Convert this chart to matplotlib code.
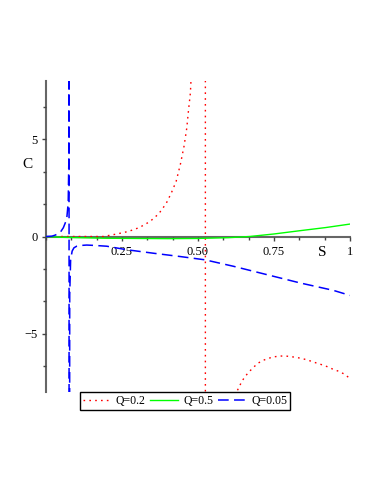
import matplotlib
matplotlib.use('Agg')
import matplotlib.pyplot as plt
from matplotlib.ticker import MultipleLocator

plt.rcParams['font.family'] = ['Liberation Serif', 'DejaVu Serif']

# Q=0.2 (red, dotted), incl. the asymptote jump
s_red = [0.05, 0.1, 0.15, 0.188, 0.23, 0.271, 0.307, 0.342, 0.371, 0.395, 0.412,
         0.428, 0.442, 0.454, 0.463, 0.469, 0.475, 0.477, 0.5, 0.524, 0.5245,
         0.6, 0.627, 0.635, 0.644, 0.655, 0.668, 0.682, 0.696, 0.713, 0.731,
         0.75, 0.77, 0.789, 0.81, 0.83, 0.85, 0.869, 0.888, 0.906, 0.924,
         0.943, 0.962, 0.979, 1.0]
c_red = [0.0, 0.0, 0.0, 0.0, 0.12, 0.26, 0.46, 0.77, 1.17, 1.69, 2.23,
         2.83, 3.71, 4.64, 5.57, 6.53, 7.39, 8.05, 20, 1000, -1000,
         -20, -8.0, -7.75, -7.46, -7.2, -6.96, -6.74, -6.53, -6.38, -6.27,
         -6.19, -6.15, -6.15, -6.19, -6.24, -6.31, -6.4, -6.5, -6.59, -6.69,
         -6.82, -6.93, -7.06, -7.3]

# Q=0.5 (green, solid)
s_green = [0.0, 0.05, 0.1, 0.2, 0.3, 0.4, 0.5, 0.6, 0.67, 0.75, 0.836, 0.92, 1.0]
c_green = [0.0, -0.04, -0.06, -0.09, -0.1, -0.11, -0.1, -0.06, 0.0, 0.13, 0.3, 0.46, 0.64]

# Q=0.05 (blue, dashed)
s_blue = [0.0, 0.02, 0.03, 0.046, 0.057, 0.068, 0.073, 0.0752, 0.0757, 0.0760,
          0.078, 0.081, 0.086, 0.092, 0.101, 0.115, 0.134, 0.16, 0.2, 0.265,
          0.353, 0.441, 0.523, 0.616, 0.726, 0.836, 0.945, 1.0]
c_blue = [0.0, 0.02, 0.07, 0.19, 0.45, 0.88, 1.73, 4.0, 60, -60,
          -3.0, -1.2, -0.75, -0.58, -0.5, -0.46, -0.44, -0.46, -0.5, -0.68,
          -0.86, -1.03, -1.2, -1.53, -1.96, -2.39, -2.77, -3.03]

labels = ['Q=0.2', 'Q=0.5', 'Q=0.05']
x_major = [0.25, 0.5, 0.75, 1.0]
x_labels = ['0.25', '0.50', '0.75', '1']
y_major = [-5, 0, 5]
y_labels = ['\u22125', '0', '5']

fig = plt.figure(figsize=(3.82, 4.94), dpi=100)
ax = fig.add_axes([46/382, 1 - 392/494, 304/382, 311/494])

ax.plot(s_red, c_red, color='#ff0000', lw=1.0, dashes=(1.2, 3.0), label=labels[0])
ax.plot(s_green, c_green, color='#00ff00', lw=1.0, label=labels[1])
ax.plot(s_blue, c_blue, color='#0000ff', lw=1.1, dashes=(7, 3.5), label=labels[2])

ax.set_xlim(0, 1)
ax.set_ylim(-8, 8)

# maple-like axes: lines through the origin
for side in ['top', 'right']:
    ax.spines[side].set_visible(False)
ax.spines['bottom'].set_position(('data', 0))
ax.spines['left'].set_position(('data', 0))
for side in ['bottom', 'left']:
    ax.spines[side].set_color('#666666')
    ax.spines[side].set_linewidth(1.5)
    ax.spines[side].set_zorder(1)

ax.set_xticks(x_major)
ax.set_xticklabels(x_labels)
ax.set_yticks(y_major)
ax.set_yticklabels(y_labels)
ax.xaxis.set_minor_locator(MultipleLocator(1/12))
ax.yaxis.set_minor_locator(MultipleLocator(5/3))
ax.tick_params(which='major', length=3, width=1, color='#444444', labelsize=9, pad=3)
ax.tick_params(which='minor', length=2, width=1, color='#444444')
ax.tick_params(axis='x', pad=4)

fig.text(27/382, 1 - 165/494, 'C', ha='center', va='center', fontsize=11)
fig.text(322/382, 1 - 253/494, 'S', ha='center', va='center', fontsize=11)

leg = ax.legend(loc='center', bbox_to_anchor=(185/382, 1 - 401/494),
                bbox_transform=fig.transFigure, ncol=3, fontsize=8.5,
                handlelength=2.3, handletextpad=0.5, columnspacing=0.4,
                borderpad=0.25, fancybox=False, framealpha=1)
leg.get_frame().set_edgecolor('black')
leg.get_frame().set_linewidth(1.0)

fig.savefig('out.png', dpi=100)
